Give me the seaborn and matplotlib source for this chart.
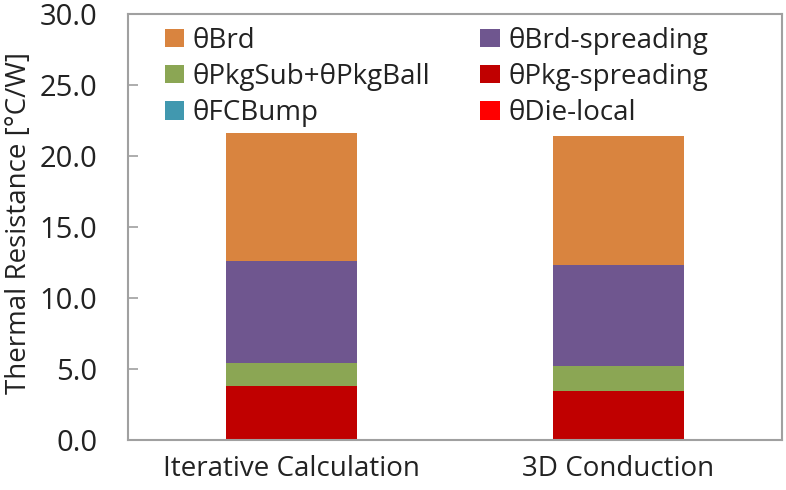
import matplotlib
matplotlib.use("Agg")
import matplotlib.pyplot as plt
from matplotlib.patches import Patch
import seaborn as sns
import numpy as np
import pandas as pd

categories = ["Iterative Calculation", "3D Conduction"]
# stacked from bottom to top
die_local = [0.05, 0.05]
fc_bump = [0.03, 0.03]
pkg_spreading = [3.70, 3.35]
pkgsub_pkgball = [1.66, 1.78]
brd_spreading = [7.19, 7.09]
brd = [8.97, 9.10]

series_names = ["θDie-local", "θFCBump", "θPkg-spreading", "θPkgSub+θPkgBall",
                "θBrd-spreading", "θBrd"]
series_vals = [die_local, fc_bump, pkg_spreading, pkgsub_pkgball, brd_spreading, brd]
colors = {"θDie-local": "#FF0000", "θFCBump": "#4198AF", "θPkg-spreading": "#C00000",
          "θPkgSub+θPkgBall": "#8BA654", "θBrd-spreading": "#6F568F", "θBrd": "#D9843F"}

sns.set_style("white")
plt.rcParams['font.family'] = ['Open Sans', 'DejaVu Sans']

fig = plt.figure(figsize=(7.86, 4.90), dpi=100)
ax = fig.add_axes([128/786, 1-440/490, 654/786, 426/490])

cum = np.cumsum(np.array(series_vals), axis=0)
rows = []
for name, c in zip(series_names, cum):
    for cat, v in zip(categories, c):
        rows.append({"cat": cat, "series": name, "top": v})
df = pd.DataFrame(rows)

for name in reversed(series_names):
    sub = df[df.series == name]
    sns.barplot(data=sub, x="cat", y="top", color=colors[name], saturation=1,
                width=0.4, ax=ax, order=categories, linewidth=0)

ax.set_ylim(0, 30)
ax.set_xlim(-0.5, 1.5)
ax.set_yticks(np.arange(0, 30.1, 5))
ax.set_yticklabels([f"{t:.1f}" for t in np.arange(0, 30.1, 5)])
ax.tick_params(axis='y', direction='in', length=7, width=1.2, color='#A0A0A0',
               labelsize=21, pad=22, left=True, labelcolor='#222222')
ax.tick_params(axis='x', length=0, labelsize=20, pad=11, labelcolor='#222222')
for sp in ax.spines.values():
    sp.set_color('#A0A0A0')
    sp.set_linewidth(1.5)
    sp.set_visible(True)
ax.set_xlabel("")
ax.set_ylabel("Thermal Resistance [°C/W]", fontsize=20, color='#222222')
ax.yaxis.set_label_coords(-0.145, 0.51)

legend_order = ["θBrd", "θPkgSub+θPkgBall", "θFCBump",
                "θBrd-spreading", "θPkg-spreading", "θDie-local"]
handles = [Patch(facecolor=colors[n], edgecolor='none', label=n) for n in legend_order]
leg = ax.legend(handles=handles, ncol=2, frameon=False, fontsize=20,
                loc='upper left', bbox_to_anchor=(0.035, 1.003),
                handlelength=0.7, handleheight=0.65, handletextpad=0.3,
                columnspacing=1.8, labelspacing=0.3, borderaxespad=0.1)
for t in leg.get_texts():
    t.set_color('#222222')

fig.savefig("out.png", dpi=100)
